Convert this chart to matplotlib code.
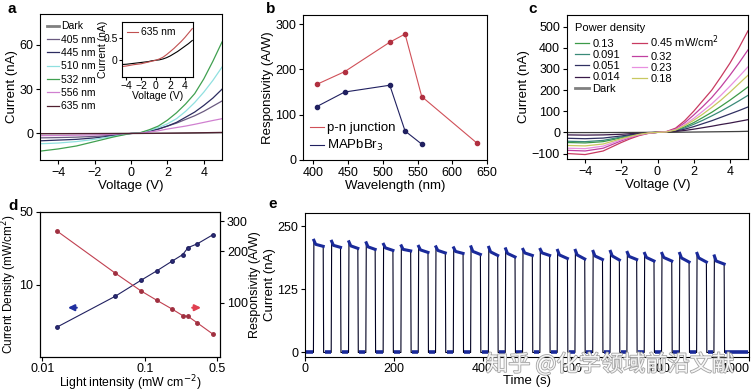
import matplotlib
matplotlib.use('Agg')
import matplotlib.pyplot as plt
import matplotlib.patheffects as pe
import numpy as np

plt.rcParams['font.family'] = ['Liberation Sans', 'DejaVu Sans']
plt.rcParams['font.size'] = 9
plt.rcParams['xtick.direction'] = 'out'
plt.rcParams['ytick.direction'] = 'out'
plt.rcParams['axes.linewidth'] = 0.8

# ---- panel a: I-V under different wavelengths ----
volt = [-5, -4, -3, -2, -1.5, -1, -0.5, 0, 0.5, 1, 1.5, 2, 2.5, 3, 3.5, 4, 4.5, 5]
iv_dark = [-0.1, -0.09, -0.07, -0.05, -0.04, -0.03, -0.01, 0, 0.01, 0.03, 0.06, 0.1, 0.15, 0.2, 0.26, 0.32, 0.38, 0.45]
iv_405 = [-3, -2.8, -2.5, -2, -1.6, -1.1, -0.5, 0, 0.3, 1.5, 3, 5, 7, 9.5, 12, 15, 18.5, 22]
iv_445 = [-5, -4.5, -4, -3, -2.3, -1.5, -0.7, 0, 0.3, 1.5, 3, 5, 7.5, 11, 14.5, 19, 24, 30]
iv_510 = [-7, -6.5, -5.5, -4, -3, -2, -1, 0, 0.4, 2, 4, 6.5, 10, 15, 21, 28, 36, 45]
iv_532 = [-12, -10.5, -8.5, -5.5, -4, -2.5, -1.2, 0, 0.5, 2.5, 5, 9, 14, 20, 27, 37, 49, 62]
iv_556 = [-1.5, -1.4, -1.2, -1, -0.8, -0.5, -0.2, 0, 0.2, 1, 1.8, 3, 4, 5, 6.2, 7.5, 8.8, 10]
iv_635 = [-0.15, -0.13, -0.1, -0.08, -0.06, -0.04, -0.02, 0, 0.03, 0.07, 0.13, 0.2, 0.27, 0.35, 0.43, 0.52, 0.62, 0.72]
wl_labels = ['Dark', '405 nm', '445 nm', '510 nm', '532 nm', '556 nm', '635 nm']
wl_colors = ['#606060', '#6a5a80', '#2c2c60', '#90e0e0', '#40a050', '#d080d0', '#502030']

# ---- panel b: responsivity vs wavelength ----
wl_pn = [405, 445, 510, 532, 556, 635]
resp_pn = [167, 195, 260, 278, 140, 38]
wl_map = [405, 445, 510, 532, 556]
resp_map = [118, 150, 165, 64, 35]

# ---- panel c: I-V under different power densities ----
iv_c = {
    '0.13': [-48, -50, -44, -26, -16, -8, -3, 0, 2, 9, 26, 46, 70, 95, 123, 152, 183, 215],
    '0.091': [-42, -44, -38, -22, -14, -7, -2, 0, 2, 8, 21, 38, 57, 78, 100, 124, 149, 175],
    '0.051': [-28, -30, -27, -17, -11, -6, -2, 0, 1, 6, 15, 27, 41, 55, 71, 87, 103, 120],
    '0.014': [-12, -13, -12, -9, -6, -3, -1, 0, 1, 4, 9, 15, 22, 29, 37, 44, 52, 60],
    'Dark': [-1, -1, -1, -0.5, -0.5, -0.3, 0, 0, 0, 0.5, 1, 1.5, 2, 2.5, 3, 3.5, 4, 5],
    '0.45 mW/cm$^2$': [-100, -105, -88, -48, -30, -15, -5, 0, 4, 20, 55, 100, 150, 200, 262, 327, 400, 480],
    '0.32': [-85, -88, -75, -40, -25, -12, -4, 0, 3, 16, 45, 82, 122, 165, 215, 270, 328, 390],
    '0.23': [-75, -77, -65, -35, -22, -11, -4, 0, 3, 13, 37, 66, 100, 135, 175, 218, 263, 310],
    '0.18': [-62, -64, -55, -30, -19, -9, -3, 0, 2, 11, 32, 57, 86, 118, 152, 190, 230, 270],
}
c_colors = ['#3c9a48', '#3a8a78', '#303062', '#3a1a48', '#404040',
            '#c83a60', '#c040a0', '#e890e0', '#c8c860']

# ---- panel d: current density and responsivity vs intensity ----
intensity = [0.014, 0.051, 0.091, 0.13, 0.18, 0.23, 0.26, 0.32, 0.45]
cur_density = [3.9, 7.7, 11.0, 13.6, 16.7, 19.4, 22.7, 24.7, 30.1]
responsivity = [262, 149, 117, 103, 92, 84, 83, 76, 65.5]

# ---- panel e: on/off switching ----
t_on = [19, 59, 98, 137, 176, 216, 255, 294, 334, 373, 413, 451,
        490, 529, 568, 608, 648, 687, 725, 764, 803, 843, 882, 921]
t_off = [41, 80, 119, 158, 198, 238, 277, 316, 356, 395, 434, 473,
         512, 551, 591, 630, 670, 708, 747, 786, 826, 865, 904, 944]
i_peak = [222, 220, 219, 217, 214, 211, 210, 209, 207, 209, 208, 205,
          204, 204, 202, 202, 200, 200, 198, 196, 196, 196, 196, 191]
i_knee = [214, 212, 211, 209, 207, 204, 203, 202, 200, 200, 199, 196,
          197, 197, 193, 193, 191, 191, 190, 188, 188, 187, 187, 181]
i_end = [210, 208, 206, 204, 202, 201, 198, 197, 196, 194, 192, 189,
         192, 192, 186, 185, 184, 183, 184, 181, 181, 179, 179, 175]

W, H = 756, 392
fig = plt.figure(figsize=(W / 100, H / 100), dpi=100)


def box(l, t, r, b):
    return [l / W, 1 - b / H, (r - l) / W, (b - t) / H]


# panel a
ax = fig.add_axes(box(40, 14, 222, 160))
for lab, col, ys in zip(wl_labels, wl_colors,
                        [iv_dark, iv_405, iv_445, iv_510, iv_532, iv_556, iv_635]):
    ax.plot(volt, ys, color=col, lw=0.9, label=lab)
ax.set_xlim(-5, 5)
ax.set_ylim(-18, 81)
ax.set_xticks([-4, -2, 0, 2, 4])
ax.set_yticks([0, 30, 60])
ax.set_xlabel('Voltage (V)', fontsize=9.5, labelpad=1)
ax.set_ylabel('Current (nA)', fontsize=9.5, labelpad=1)
leg = ax.legend(loc='upper left', frameon=False, fontsize=7.5, handlelength=1.1,
                handletextpad=0.25, labelspacing=0.32, borderaxespad=0.3)
leg.legend_handles[0].set_linewidth(2)
leg.legend_handles[0].set_color('#808080')

ins = fig.add_axes(box(122, 22, 193, 77))
ins.plot(volt, iv_dark, color='black', lw=0.8)
ins.plot(volt, iv_635, color='#c05050', lw=0.8, label='635 nm')
ins.set_xlim(-4.6, 5.1)
ins.set_ylim(-0.38, 0.87)
ins.set_xticks([-4, -2, 0, 2, 4])
ins.set_yticks([0, 0.5])
ins.set_yticklabels(['0', '0.5'])
ins.tick_params(labelsize=7.5, length=2, pad=1)
ins.set_xlabel('Voltage (V)', fontsize=7.5, labelpad=0)
ins.set_ylabel('Current (nA)', fontsize=7.5)
ins.yaxis.set_label_coords(-0.2, 0.5)
ins.legend(loc='upper left', frameon=False, fontsize=7.5, handlelength=1,
           handletextpad=0.3, borderaxespad=0.1)

# panel b
bx = fig.add_axes(box(303, 15, 487, 160))
bx.plot(wl_pn, resp_pn, color='#d05058', lw=0.8, marker='o', ms=3,
        mfc='#b03040', mec='#b03040', label='p-n junction')
bx.plot(wl_map, resp_map, color='#202060', lw=0.8, marker='o', ms=3,
        mfc='#202060', mec='#202060', label='MAPbBr$_3$')
bx.set_xlim(385, 650)
bx.set_ylim(0, 320)
bx.set_xticks([400, 450, 500, 550, 600, 650])
bx.set_yticks([0, 100, 200, 300])
bx.set_xlabel('Wavelength (nm)', fontsize=9.5, labelpad=1)
bx.set_ylabel('Responsivity (A/W)', fontsize=9.5, labelpad=1)
leg = bx.legend(loc='lower left', frameon=False, fontsize=9.5, handlelength=1.1,
                handletextpad=0.2, labelspacing=0.3, borderaxespad=0.1)
for h in leg.legend_handles:
    h.set_marker('')

# panel c
cx = fig.add_axes(box(567, 15, 748, 159))
for (lab, ys), col in zip(iv_c.items(), c_colors):
    cx.plot(volt, ys, color=col, lw=0.9, label=lab)
cx.set_xlim(-5, 5)
cx.set_ylim(-126, 555)
cx.set_xticks([-4, -2, 0, 2, 4])
cx.set_yticks([-100, 0, 100, 200, 300, 400, 500])
cx.set_xlabel('Voltage (V)', fontsize=9.5, labelpad=1)
cx.set_ylabel('Current (nA)', fontsize=9.5, labelpad=1)
leg = cx.legend(loc='upper left', ncol=2, frameon=False, fontsize=8,
                title='Power density', title_fontsize=8, handlelength=1.3,
                handletextpad=0.3, labelspacing=0.1, columnspacing=1.1,
                borderaxespad=0.3)
leg._legend_box.align = 'left'
leg.legend_handles[4].set_linewidth(2)
leg.legend_handles[4].set_color('#808080')

# panel d
dx = fig.add_axes(box(40, 212, 220, 357))
dx.plot(intensity, cur_density, color='#202060', lw=0.8, marker='o', ms=2.5,
        mfc='#303080', mec='#202060')
dx.set_xscale('log')
dx.set_yscale('log')
dx.set_xlim(0.0095, 0.53)
dx.set_ylim(2, 50)
dx.set_xticks([0.01, 0.1, 0.5])
dx.set_xticklabels(['0.01', '0.1', '0.5'])
dx.set_yticks([10, 50])
dx.set_yticklabels(['10', '50'])
dx.yaxis.set_minor_formatter(plt.NullFormatter())
dx.xaxis.set_minor_formatter(plt.NullFormatter())
dx.tick_params(which='minor', length=0)
dx.set_xlabel('Light intensity (mW cm$^{-2}$)', fontsize=8.8, labelpad=-1)
dx.set_ylabel('Current Density (mW/cm$^2$)', fontsize=8.5, labelpad=0)
dx.annotate('', xy=(0.14, 0.34), xytext=(0.22, 0.34), xycoords='axes fraction',
            arrowprops=dict(arrowstyle='-|>', color='#2030a0', lw=1.5,
                            mutation_scale=9))
dr = dx.twinx()
dr.plot(intensity, responsivity, color='#c04050', lw=0.8, marker='o', ms=2.5,
        mfc='#a03040', mec='#a03040')
dr.set_yscale('log')
dr.set_ylim(48, 340)
dr.set_yticks([100, 200, 300])
dr.set_yticklabels(['100', '200', '300'])
dr.yaxis.set_minor_formatter(plt.NullFormatter())
dr.tick_params(which='minor', length=0)
dr.set_ylabel('Responsivity (A/W)', fontsize=9, labelpad=1)
dx.annotate('', xy=(0.91, 0.34), xytext=(0.83, 0.34), xycoords='axes fraction',
            arrowprops=dict(arrowstyle='-|>', color='#e04050', lw=1.5,
                            mutation_scale=9))

# panel e
ex = fig.add_axes(box(305, 213, 749, 357))
tt, ii = [0], [0]
for a, b, p, k, e in zip(t_on, t_off, i_peak, i_knee, i_end):
    tt += [a, a + 1, a + 5, b, b + 1]
    ii += [0, p, k, e, 0]
tt.append(1000)
ii.append(0)
ex.plot(tt, ii, color='#000020', lw=0.8)
prev = 0
for a, b, p, k, e in zip(t_on, t_off, i_peak, i_knee, i_end):
    ex.plot([prev + 2, a - 1], [0, 0], color='#1a2a9a', lw=2.6, solid_capstyle='butt')
    ex.plot([a + 1, a + 5, b], [p, k, e], color='#1a2a9a', lw=2.2)
    prev = b + 1
ex.plot([prev + 2, 998], [0, 0], color='#1a2a9a', lw=2.6, solid_capstyle='butt')
ex.set_xlim(0, 1000)
ex.set_ylim(-9, 276)
ex.set_xticks([0, 200, 400, 600, 800, 1000])
ex.set_yticks([0, 125, 250])
ex.set_xlabel('Time (s)', fontsize=9.5, labelpad=0)
ex.set_ylabel('Current (nA)', fontsize=9.5, labelpad=1)

for a_ in [ax, bx, cx, dx, ex]:
    a_.tick_params(pad=2, length=3)
dr.tick_params(pad=2, length=3)
dx.tick_params(axis='x', pad=1.5)
ex.tick_params(axis='x', pad=1.5)
ex.get_xticklabels()[-1].set_horizontalalignment('right')

# panel letters
for s, x, y in [('a', 8, 13), ('b', 266, 13), ('c', 528, 13), ('d', 8, 210), ('e', 268, 208)]:
    fig.text(x / W, 1 - y / H, s, fontsize=11, fontweight='bold')

# watermark
fig.text(486 / W, 1 - 371 / H, '知乎 @化学领域前沿文献', fontsize=16,
         family=['Noto Sans CJK SC', 'DejaVu Sans'], color='white', alpha=0.9,
         path_effects=[pe.withStroke(linewidth=1.2, foreground='#9a9a9a')])

fig.savefig('out.png', dpi=100)
